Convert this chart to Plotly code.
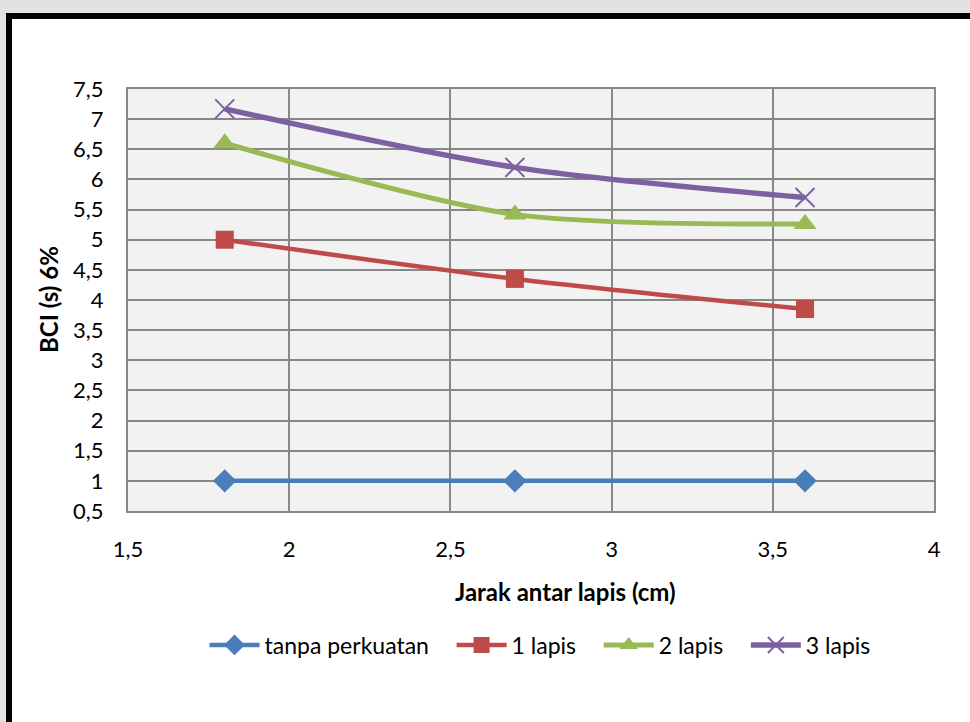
import plotly.graph_objects as go

jarak = [1.8, 2.7, 3.6]
tanpa_perkuatan = [1.0, 1.0, 1.0]
lapis_1 = [5.0, 4.35, 3.85]
lapis_2 = [6.6, 5.42, 5.26]
lapis_3 = [7.17, 6.2, 5.7]

names = ["tanpa perkuatan", "1 lapis", "2 lapis", "3 lapis"]
colors = ["#4a7ebb", "#be4b48", "#98b954", "#7d60a0"]

W, H = 970, 722
L, R, T, B = 128, 36, 89, 211
pw, ph = W - L - R, H - T - B


def px(x):
    return (x - L) / pw


def py(y):
    return (H - B - y) / ph


FONT = "Lato, Carlito, 'Open Sans', sans-serif"
PAD = "\u00a0" * 3

fig = go.Figure()
series = [
    (tanpa_perkuatan, dict(symbol="diamond", size=18), 4.5),
    (lapis_1, dict(symbol="square", size=18), 4.5),
    (lapis_2, dict(symbol="triangle-up", size=20), 5),
    (lapis_3, dict(symbol="x-thin-open", size=19, line=dict(width=2, color=colors[3])), 5.5),
]
for i, ((vals, mk, lw), name, c) in enumerate(zip(series, names, colors)):
    mk = dict(mk)
    mk.setdefault("color", c)
    label = name + (PAD if i < len(names) - 1 else "")
    fig.add_trace(go.Scatter(
        x=jarak, y=vals, name=label, mode="lines+markers",
        line=dict(color=c, width=lw, shape="spline", smoothing=0.8),
        marker=mk,
    ))

shapes = [
    dict(type="rect", xref="paper", yref="paper", layer="below",
         x0=px(9), x1=px(1000), y0=py(16), y1=py(760),
         fillcolor="white", line=dict(color="black", width=6)),
    dict(type="rect", xref="paper", yref="paper", layer="below",
         x0=0, x1=1, y0=0, y1=1, fillcolor="#f2f2f2", line=dict(width=0)),
]

axis_common = dict(
    showgrid=True, gridcolor="#878787", gridwidth=1.5,
    showline=True, linecolor="#878787", linewidth=2, mirror=True,
    zeroline=False, ticks="", tickfont=dict(family=FONT, size=22, color="black"),
    ticklabelstandoff=18,
)

fig.update_layout(
    width=W, height=H,
    margin=dict(l=L, r=R, t=T, b=B),
    paper_bgcolor="#e2e2e2",
    plot_bgcolor="rgba(0,0,0,0)",
    separators=", ",
    shapes=shapes,
    font=dict(family=FONT, size=22, color="black"),
    xaxis=dict(range=[1.5, 4], dtick=0.5, tick0=1.5, **axis_common),
    yaxis=dict(range=[0.5, 7.5], dtick=0.5, tick0=0.5, **axis_common),
    showlegend=True,
    legend=dict(orientation="h", x=px(540), xanchor="center", y=py(645), yanchor="middle",
                bgcolor="rgba(0,0,0,0)", font=dict(family=FONT, size=23),
                itemwidth=50, tracegroupgap=0),
    annotations=[
        dict(text="<b>Jarak antar lapis (cm)</b>", xref="paper", yref="paper",
             x=px(565), y=py(591), showarrow=False, font=dict(family=FONT, size=24),
             xanchor="center", yanchor="middle"),
        dict(text="<b>BCI (s) 6%</b>", xref="paper", yref="paper",
             x=px(48), y=py(300), showarrow=False, textangle=-90,
             font=dict(family=FONT, size=24), xanchor="center", yanchor="middle"),
    ],
)

fig.write_html("out.html")
